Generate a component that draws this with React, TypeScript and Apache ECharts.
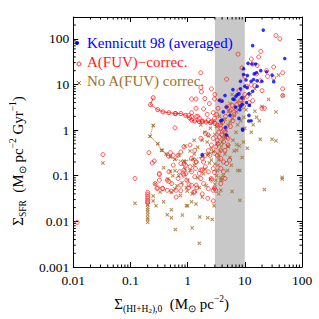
import React, { useEffect, useRef } from 'react';
import * as echarts from 'echarts';

// ---- data (Sigma_gas [Msun/pc^2], Sigma_SFR [Msun/pc^2/Gyr]) ----
const kennicutt: [number, number][] = [
  [21, 155], [50, 37], [13.7, 71], [11.4, 29], [13.4, 28], [19, 20], [24, 19], [16, 18], [14.6, 17],
  [11.1, 15.7], [9.5, 22], [8.4, 11.7], [12.9, 11.7], [16.4, 12], [19.8, 11.7], [32, 11.5], [14.2, 12.8],
  [9.5, 16.5], [10, 9.1], [13.7, 7.1], [11.8, 6.3], [7.4, 6.0], [6.5, 4.7], [8.9, 5.1], [6.2, 7.7],
  [4.0, 4.3], [4.8, 3.2], [8.2, 2.8], [10.7, 4], [1.8, 0.29], [3.6, 4.5], [4.5, 5.7], [6.2, 4.8],
  [7.9, 6.2], [8.4, 8], [6.9, 3.2], [8.4, 3.3], [4.2, 2.5], [11.8, 2.1], [12.9, 1.6], [3.8, 1.6],
  [4.6, 1.15], [7.9, 1.8], [9.2, 1.0], [16.4, 9.1], [15.5, 28], [11, 8.5], [7, 5.5], [9, 3.6],
  [5.5, 2.1], [30, 16], [12, 3.5], [10.5, 12.5], [4, 1.66], [4.8, 0.78], [11.7, 1.58], [9.1, 1.05]
];

const fuvCorrected: [number, number][] = [
  [0.0117, 0.0095], [0.033, 0.29], [0.12, 0.087],
  [0.2, 0.043], [0.2, 0.039], [0.2, 0.035], [0.2, 0.032], [0.2, 0.029], [0.2, 0.027], [0.2, 0.025],
  [1.18, 2.4], [0.6, 1.12], [1.7, 8.5], [1.7, 18], [0.21, 0.32], [0.26, 0.21], [0.24, 0.19], [0.5, 0.32], [0.46, 0.27],
  [35, 118], [41, 100], [19, 53], [17.5, 40], [13, 36], [13.7, 28], [7.6, 46], [8.9, 23], [16.4, 26], [24, 20],
  [16, 17], [10, 15], [18.6, 12], [25, 15], [46, 18], [46, 8], [46, 5.7], [19.8, 3.0], [14.9, 9.4], [12.9, 9.8],
  [7.9, 7.3], [4.8, 13], [1.74, 6.9], [1.4, 4.8], [2.0, 4.9], [1.17, 4.8], [1.4, 3.0], [1.9, 2.9], [2.6, 8],
  [2.95, 4.8], [3.8, 4.4], [4.8, 3.2], [10.7, 9.1], [13.7, 4.4], [20, 7.3], [32, 14], [32, 24], [22, 3.0],
  [10, 6], [9, 5], [11, 5.5], [12, 4], [8.5, 4.5], [6, 3.5], [7, 2.8], [5.5, 2.6], [6.5, 2.2], [9.5, 3.3],
  [3.0, 6.0], [2.4, 3.8], [1.5, 2.0], [2.2, 2.2], [2.8, 2.4],
  [1.04, 2.1], [1.17, 1.96], [1.41, 1.96], [1.6, 1.8], [1.8, 1.52], [2.3, 1.66], [2.6, 1.52], [2.95, 1.8],
  [3.3, 1.29], [3.8, 1.09], [4.25, 1.0], [4.5, 0.92], [4.0, 0.78], [4.8, 0.71], [5.1, 0.66], [4.25, 0.55],
  [3.3, 0.6], [2.8, 0.66], [2.3, 0.78], [2.04, 0.85], [1.7, 0.66], [2.6, 0.47], [3.1, 0.43], [3.8, 0.36],
  [4.5, 0.36], [5.1, 0.47], [2.3, 0.36], [2.45, 0.28], [2.95, 0.31], [3.3, 0.28], [3.8, 0.24], [4.25, 0.2],
  [4.8, 0.185], [5.4, 0.22], [3.8, 0.144], [2.8, 0.144], [2.04, 0.157], [1.9, 0.2], [1.41, 0.2], [1.17, 0.24],
  [1.1, 0.157], [0.92, 0.17], [0.76, 0.185], [0.86, 0.133], [0.72, 0.122], [0.86, 0.103], [0.68, 0.087],
  [0.97, 0.08], [1.33, 0.095], [1.17, 0.122], [1.7, 0.087], [1.9, 0.067], [2.3, 0.052], [2.6, 0.08],
  [2.8, 0.048], [3.1, 0.048], [3.8, 0.067], [4.5, 0.087], [4.25, 0.122], [2.3, 0.122], [1.8, 0.133],
  [1.6, 0.112], [1.17, 0.062], [1.41, 0.062], [1.04, 0.054], [1.33, 0.044], [1.8, 0.04], [2.25, 0.032],
  [2.8, 0.028], [2.95, 0.053], [0.53, 0.067], [0.44, 0.08], [0.47, 0.122], [0.56, 0.17], [0.68, 0.28],
  [0.76, 0.33], [0.56, 0.28], [0.86, 0.43], [1.1, 0.47], [1.33, 0.36], [1.8, 0.24], [2.04, 0.28],
  [0.63, 0.048], [0.76, 0.062], [0.27, 0.067], [0.32, 0.08], [0.36, 0.053], [0.44, 0.048], [0.32, 0.112],
  [0.29, 0.053], [0.32, 0.106], [0.47, 0.075], [0.3, 0.054], [0.37, 0.052], [0.52, 0.046], [0.76, 0.047],
  [0.63, 0.034], [0.84, 0.11], [0.93, 0.11], [0.86, 0.18], [1.06, 0.064], [1.28, 0.044], [1.4, 0.2],
  [1.37, 0.144], [1.7, 0.133], [1.45, 0.054], [2.6, 0.087], [2.95, 0.118],
  [3.5, 0.9], [3.6, 0.7], [3.4, 0.5], [3.7, 1.3], [4.1, 1.5], [5.6, 1.2], [6.2, 1.6], [3.2, 2.2],
  [4.6, 2.0], [5.8, 2.8], [7.2, 3.6], [3.4, 3.0]
];

const fuvTrack: [number, number][] = [
  [0.25, 5.1], [0.224, 3.6], [0.3, 2.8], [0.37, 2.5], [0.47, 2.4], [0.6, 2.3], [0.62, 2.3], [0.76, 2.3],
  [0.92, 2.1], [1.08, 1.85], [1.18, 1.65], [1.33, 1.58], [1.6, 1.52], [1.8, 1.58], [2.1, 1.5], [2.5, 1.45], [3.0, 1.4]
];

const noCorrection: [number, number][] = [
  [0.033, 0.19], [0.12, 0.025],
  [0.2, 0.023], [0.2, 0.02], [0.2, 0.018], [0.2, 0.016], [0.2, 0.014], [0.2, 0.012], [0.2, 0.011], [0.2, 0.0095],
  [18.6, 0.63], [30, 0.63], [35, 0.58], [45, 0.092], [45, 0.085], [22, 0.05], [8.2, 0.029], [9.6, 1.9], [15, 2.6],
  [35, 2.5], [39, 16], [46, 5.7], [26, 4.7], [20, 3.3], [3.8, 0.048], [2.7, 0.011], [2.25, 0.012], [2.9, 0.022],
  [1.6, 0.0033], [1.8, 0.034],
  [0.25, 0.036], [0.28, 0.022], [0.38, 0.027], [0.52, 0.018], [0.44, 0.014], [0.52, 0.012], [0.61, 0.0066],
  [0.81, 0.0137], [1.0, 0.022], [0.95, 0.022], [1.2, 0.0072], [1.4, 0.024], [1.63, 0.0125], [0.33, 0.044],
  [0.27, 0.067], [0.5, 0.125], [0.6, 0.128], [0.36, 0.36], [0.52, 0.044], [0.25, 0.028], [0.75, 0.037],
  [0.98, 0.046], [1.17, 0.027],
  [2.9, 0.053], [3.0, 0.065], [3.1, 0.08], [3.2, 0.1], [3.3, 0.13], [3.4, 0.17], [3.5, 0.22], [3.5, 0.28],
  [3.7, 0.35], [3.9, 0.45], [4.0, 0.55], [4.2, 0.66], [4.4, 0.8], [4.7, 1.0], [5.1, 1.29], [5.5, 1.5],
  [6, 1.8], [6.5, 2.1], [7.2, 2.5],
  [0.7, 0.1], [0.8, 0.07], [0.9, 0.2], [1.1, 0.13], [1.3, 0.3], [1.5, 0.09], [1.6, 0.055], [1.9, 0.11],
  [2.1, 0.06], [2.4, 0.19], [2.6, 0.4], [2.2, 0.55], [2.0, 0.9], [1.7, 1.3], [2.5, 1.1], [3.0, 0.8],
  [3.3, 0.5], [4.5, 0.3], [5, 0.45], [5.5, 0.25], [6.2, 0.6], [7, 0.9], [7.5, 1.3], [8.5, 1.6], [10, 1.1],
  [10.5, 2.8], [12, 3.5], [8, 0.45], [6.5, 0.35], [5.8, 0.17], [5, 0.13], [4.2, 0.1], [4, 0.08], [9, 0.25],
  [4.5, 1.7], [3.6, 2.0], [2.8, 1.6], [3.2, 1.2], [3.9, 1.4], [5.2, 2.6], [6.8, 3.0], [4.6, 0.7], [1.3, 0.6],
  [0.9, 0.45], [0.7, 0.28], [1.1, 0.35], [1.5, 0.42], [1.8, 0.6], [2.3, 0.75], [2.6, 0.22], [3.0, 0.18],
  [2.0, 0.14], [1.3, 0.17], [0.45, 0.085], [0.55, 0.1], [0.38, 0.15], [0.65, 0.06], [1.0, 0.08], [2.5, 0.085],
  [3.5, 0.04], [6, 0.045], [7.5, 0.13], [9.5, 0.55], [11, 0.4], [13, 0.9], [14, 1.3], [16, 1.9], [18, 1.6],
  [0.9, 0.14], [0.6, 0.052], [1.2, 0.04], [0.95, 0.055], [8.2, 0.13], [5.1, 0.43], [7.2, 0.48], [7.2, 0.36],
  [3.8, 0.09], [3.8, 0.082], [5.5, 3.8], [7.5, 4.2], [9.5, 5], [12.5, 6], [15, 8], [6, 6], [9, 4], [8, 3.5]
];

const noCorrTrack: [number, number][] = [
  [0.25, 1.26], [0.22, 0.73], [0.3, 0.5], [0.35, 0.36], [0.42, 0.3], [0.5, 0.26], [0.6, 0.23],
  [0.86, 0.21], [1.25, 0.23], [1.8, 0.26], [2.3, 0.3], [2.8, 0.34]
];

const shadedBand: [number, number][] = [[3, 10]];
const xRange = [0.01, 100];
const yRange = [0.001, 300];
const seriesNames = ['Kennicutt 98 (averaged)', 'A(FUV)\u2212correc.', 'No A(FUV) correc.'];

const BLUE = '#0000ff';
const RED = '#ff1a1a';
const BROWN = '#a0702a';
const FONT = 'Liberation Serif';
const CROSS = 'path://M0,1.8L1.8,0L5,3.2L8.2,0L10,1.8L6.8,5L10,8.2L8.2,10L5,6.8L1.8,10L0,8.2L3.2,5Z';

function minorValues(lo: number, hi: number): number[] {
  const out: number[] = [];
  for (let d = lo; d < hi; d *= 10) {
    for (let m = 2; m <= 9; m++) {
      const v = Number((m * d).toPrecision(3));
      if (v > lo && v < hi) out.push(v);
    }
  }
  return out;
}

function isDecade(v: number) {
  const l = Math.log10(v);
  return Math.abs(l - Math.round(l)) < 1e-6;
}

export default function App() {
  const ref = useRef<HTMLDivElement>(null);
  useEffect(() => {
    if (!ref.current) return;
    const chart = echarts.init(ref.current, undefined, { renderer: 'svg' });
    const labelFmt = (v: number) => (isDecade(v) ? String(Number(v.toPrecision(2))) : '');
    const xMinor = minorValues(xRange[0], xRange[1]);
    const yMinor = minorValues(yRange[0], 1000).filter((v) => v < yRange[1]);
    const axisCommon = {
      axisLine: { show: true, lineStyle: { color: '#000', width: 1 } },
      axisTick: { show: true, inside: true, length: 5, lineStyle: { color: '#000' } },
      splitLine: { show: false },
    };
    const tickStyle = { stroke: '#000', lineWidth: 1 };
    const ring = { color: 'rgba(255,255,255,0)', borderColor: RED, borderWidth: 0.9 };
    const legendTextStyle = (color: string) => ({ text: '', fill: color, font: `15px "${FONT}"`, verticalAlign: 'middle' as const });
    const LX = 77, TX = 87, R0 = 43, RG = 19;
    const titleRich = {
      n: { fontFamily: FONT, fontSize: 15, color: '#000', lineHeight: 20 },
      s: { fontFamily: FONT, fontSize: 9.5, color: '#000', verticalAlign: 'bottom', lineHeight: 14 },
      ss: { fontFamily: FONT, fontSize: 7, color: '#000', verticalAlign: 'bottom', lineHeight: 12 },
      p: { fontFamily: FONT, fontSize: 9.5, color: '#000', verticalAlign: 'top', lineHeight: 14 },
    };
    chart.setOption({
      animation: false,
      backgroundColor: '#fff',
      textStyle: { fontFamily: FONT },
      grid: { left: 52, right: 17, top: 17, bottom: 51 },
      graphic: [
        { type: 'circle', z: 20, left: LX - 2, top: R0 - 2, shape: { r: 2 }, style: { fill: BLUE } },
        { type: 'text', z: 20, x: TX, y: R0, style: { ...legendTextStyle(BLUE), text: seriesNames[0] } },
        { type: 'circle', z: 20, left: LX - 2.5, top: R0 + RG - 2.5, shape: { r: 2 }, style: { fill: 'none', stroke: RED, lineWidth: 0.9 } },
        { type: 'text', z: 20, x: TX, y: R0 + RG, style: { ...legendTextStyle(RED), text: seriesNames[1] } },
        {
          type: 'group', z: 20, left: LX - 2.3, top: R0 + 2 * RG - 2.3,
          children: [
            { type: 'line', shape: { x1: 0, y1: 0, x2: 3.6, y2: 3.6 }, style: { stroke: BROWN, lineWidth: 1 } },
            { type: 'line', shape: { x1: 0, y1: 3.6, x2: 3.6, y2: 0 }, style: { stroke: BROWN, lineWidth: 1 } },
          ],
        },
        { type: 'text', z: 20, x: TX, y: R0 + 2 * RG, style: { ...legendTextStyle(BROWN), text: seriesNames[2] } },
      ],
      xAxis: [
        {
          type: 'log', min: xRange[0], max: xRange[1], position: 'bottom', ...axisCommon,
          axisLabel: { formatter: labelFmt, fontFamily: FONT, fontSize: 13.5, color: '#000', margin: 6 },
          name: '{n|\u03a3}{s|(HI+H}{ss|2}{s|),0}{n|  (M}{s|\u2299}{n| pc}{p|\u22122}{n|)}',
          nameLocation: 'middle', nameGap: 27,
          nameTextStyle: { padding: [0, 32, 0, 0], rich: titleRich },
        },
        {
          type: 'log', min: xRange[0], max: xRange[1], position: 'top', ...axisCommon,
          axisLabel: { show: false },
        },
      ],
      yAxis: [
        {
          type: 'log', min: yRange[0], max: yRange[1], position: 'left', ...axisCommon,
          axisLabel: { formatter: labelFmt, fontFamily: FONT, fontSize: 13.5, color: '#000', margin: 4 },
          name: '{n|\u03a3}{s|SFR}{n|  (M}{s|\u2299}{n| pc}{p|\u22122}{n| Gyr}{p|\u22121}{n|)}',
          nameLocation: 'middle', nameGap: 30, nameRotate: 90,
          nameTextStyle: { padding: [0, 38, 0, 0], rich: titleRich },
        },
        {
          type: 'log', min: yRange[0], max: yRange[1], position: 'right', ...axisCommon,
          axisLabel: { show: false },
        },
      ],
      series: [
        {
          type: 'custom', name: 'band', silent: true, z: 1,
          data: shadedBand,
          renderItem: (params: any, api: any) => {
            const cs = params.coordSys;
            const a = api.coord([api.value(0), 1]);
            const b = api.coord([api.value(1), 1]);
            return { type: 'rect', shape: { x: a[0], y: cs.y, width: b[0] - a[0], height: cs.height }, style: { fill: '#c8c8c8' } };
          },
        },
        {
          type: 'custom', name: 'xminor', silent: true, z: 10,
          data: xMinor.map((v) => [v, 1]),
          renderItem: (params: any, api: any) => {
            const cs = params.coordSys;
            const x = api.coord([api.value(0), 1])[0];
            return {
              type: 'group', children: [
                { type: 'line', shape: { x1: x, y1: cs.y + cs.height, x2: x, y2: cs.y + cs.height - 2.5 }, style: tickStyle },
                { type: 'line', shape: { x1: x, y1: cs.y, x2: x, y2: cs.y + 2.5 }, style: tickStyle },
              ],
            };
          },
        },
        {
          type: 'custom', name: 'yminor', silent: true, z: 10,
          data: yMinor.map((v) => [1, v]),
          renderItem: (params: any, api: any) => {
            const cs = params.coordSys;
            const y = api.coord([1, api.value(1)])[1];
            return {
              type: 'group', children: [
                { type: 'line', shape: { x1: cs.x, y1: y, x2: cs.x + 2.5, y2: y }, style: tickStyle },
                { type: 'line', shape: { x1: cs.x + cs.width, y1: y, x2: cs.x + cs.width - 2.5, y2: y }, style: tickStyle },
              ],
            };
          },
        },
        {
          type: 'line', name: 'noCorrTrack', data: noCorrTrack, z: 3,
          symbol: CROSS, symbolSize: 4, showSymbol: true,
          itemStyle: { color: BROWN },
          lineStyle: { color: BROWN, width: 1, type: 'dotted' },
        },
        {
          type: 'scatter', name: seriesNames[2], data: noCorrection, z: 3,
          symbol: CROSS, symbolSize: 4,
          itemStyle: { color: BROWN },
        },
        {
          type: 'line', name: 'fuvTrack', data: fuvTrack, z: 4,
          symbol: 'circle', symbolSize: 4, showSymbol: true,
          itemStyle: ring,
          lineStyle: { color: RED, width: 0.8 },
        },
        {
          type: 'scatter', name: seriesNames[1], data: fuvCorrected, z: 4,
          symbol: 'circle', symbolSize: 4,
          itemStyle: ring,
        },
        {
          type: 'scatter', name: seriesNames[0], data: kennicutt, z: 5,
          symbol: 'circle', symbolSize: 3.6,
          itemStyle: { color: BLUE },
        },
      ],
    });
    return () => chart.dispose();
  }, []);
  return <div ref={ref} style={{ position: 'fixed', left: 0, top: 0, width: 319, height: 319, background: '#fff' }} />;
}
